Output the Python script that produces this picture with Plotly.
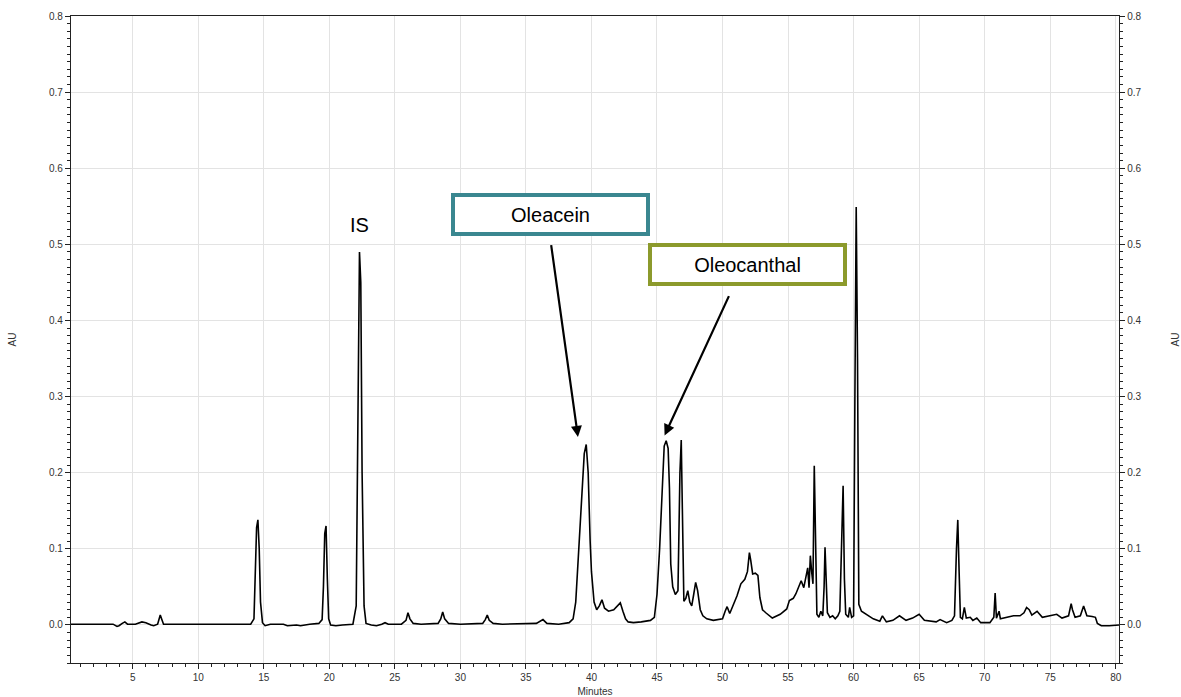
import plotly.graph_objects as go

# Chromatogram (retention time in minutes, absorbance in AU)
time_min = [
    0.29, 3.5, 3.8, 3.95, 4.2, 4.4, 4.6, 5.2, 5.7, 6.0,
    6.4, 6.6, 6.9, 7.0, 7.1, 7.2, 7.35, 8.0, 10.0, 12.0,
    14.0, 14.25, 14.35, 14.45, 14.55, 14.65, 14.75, 14.9, 15.1, 15.5,
    16.5, 16.8, 17.5, 17.8, 18.5, 19.2, 19.45, 19.55, 19.65, 19.75,
    19.85, 19.95, 20.1, 20.5, 21.0, 21.8, 22.05, 22.2, 22.3, 22.4,
    22.5, 22.65, 22.8, 23.2, 23.6, 24.0, 24.25, 24.5, 25.5, 25.85,
    26.0, 26.15, 26.4, 27.0, 28.3, 28.5, 28.65, 28.8, 29.1, 30.0,
    31.7, 31.9, 32.05, 32.2, 32.5, 33.2, 35.8, 36.3, 36.6, 37.5,
    38.3, 38.6, 38.8, 39.0, 39.1, 39.3, 39.45, 39.6, 39.75, 39.9,
    40.0, 40.2, 40.4, 40.6, 40.8, 41.0, 41.3, 41.7, 42.0, 42.2,
    42.4, 42.6, 42.8, 43.2, 43.8, 44.5, 44.8, 45.0, 45.2, 45.4,
    45.55, 45.7, 45.85, 45.95, 46.05, 46.2, 46.4, 46.6, 46.75, 46.85,
    46.95, 47.05, 47.2, 47.35, 47.5, 47.65, 47.8, 47.95, 48.1, 48.3,
    48.5, 48.8, 49.3, 50.0, 50.2, 50.35, 50.55, 50.8, 51.1, 51.4,
    51.7, 51.9, 52.05, 52.15, 52.3, 52.5, 52.7, 52.85, 53.05, 53.3,
    53.8, 54.4, 54.9, 55.1, 55.4, 55.6, 55.8, 56.0, 56.2, 56.35,
    56.5, 56.6, 56.7, 56.8, 56.9, 57.0, 57.1, 57.2, 57.35, 57.5,
    57.65, 57.75, 57.82, 57.9, 58.0, 58.2, 58.4, 58.6, 58.8, 58.95,
    59.1, 59.2, 59.3, 59.4, 59.6, 59.7, 59.85, 60.0, 60.1, 60.2,
    60.3, 60.4, 60.6, 61.0, 61.5, 62.0, 62.2, 62.5, 63.0, 63.5,
    64.0, 64.5, 65.0, 65.4, 65.8, 66.3, 66.6, 67.1, 67.5, 67.7,
    67.85, 67.95, 68.05, 68.15, 68.3, 68.45, 68.6, 68.9, 69.1, 69.4,
    69.7, 70.4, 70.7, 70.8, 70.9, 71.1, 71.2, 71.7, 72.2, 72.7,
    73.0, 73.2, 73.4, 73.6, 73.8, 74.0, 74.4, 75.0, 75.5, 75.9,
    76.4, 76.6, 76.7, 76.9, 77.3, 77.55, 77.8, 78.2, 78.45, 78.6,
    78.9, 79.5, 80.25,
]
absorbance_au = [
    0.001, 0.001, -0.002, -0.001, 0.002, 0.004, 0.001, 0.001, 0.004, 0.003,
    0.0, -0.001, 0.001, 0.008, 0.013, 0.008, 0.001, 0.001, 0.001, 0.001,
    0.001, 0.008, 0.06, 0.128, 0.138, 0.1, 0.03, 0.003, -0.001, 0.001,
    0.001, -0.001, 0.0, -0.001, 0.001, 0.002, 0.007, 0.05, 0.12, 0.13,
    0.06, 0.008, 0.0, -0.001, 0.0, 0.001, 0.025, 0.3, 0.49, 0.45,
    0.2, 0.025, 0.002, 0.0, -0.001, 0.001, 0.003, 0.001, 0.001, 0.006,
    0.016, 0.008, 0.002, 0.001, 0.002, 0.008, 0.017, 0.008, 0.002, 0.001,
    0.002, 0.007, 0.013, 0.006, 0.002, 0.001, 0.002, 0.007, 0.002, 0.001,
    0.003, 0.008, 0.03, 0.09, 0.12, 0.19, 0.225, 0.237, 0.2, 0.11,
    0.07, 0.03, 0.02, 0.025, 0.033, 0.022, 0.018, 0.02, 0.025, 0.029,
    0.018, 0.008, 0.004, 0.003, 0.004, 0.006, 0.01, 0.04, 0.1, 0.19,
    0.235, 0.242, 0.232, 0.18, 0.08, 0.05, 0.04, 0.045, 0.2, 0.243,
    0.15, 0.031, 0.035, 0.045, 0.03, 0.025, 0.04, 0.056, 0.045, 0.02,
    0.012, 0.008, 0.006, 0.008, 0.018, 0.024, 0.015, 0.025, 0.038, 0.054,
    0.06, 0.07, 0.095, 0.085, 0.067, 0.068, 0.065, 0.036, 0.02, 0.016,
    0.009, 0.014, 0.021, 0.032, 0.035, 0.041, 0.05, 0.058, 0.049, 0.06,
    0.075, 0.049, 0.091, 0.07, 0.054, 0.209, 0.12, 0.014, 0.01, 0.018,
    0.012, 0.05, 0.102, 0.05, 0.016, 0.01, 0.012, 0.008, 0.012, 0.018,
    0.12, 0.183, 0.06, 0.014, 0.01, 0.023, 0.01, 0.012, 0.3, 0.549,
    0.35, 0.027, 0.018, 0.014, 0.008, 0.005, 0.012, 0.004, 0.006, 0.012,
    0.006, 0.009, 0.014, 0.006, 0.005, 0.004, 0.007, 0.003, 0.006, 0.012,
    0.1, 0.138, 0.071, 0.01, 0.008, 0.023, 0.009, 0.01, 0.006, 0.009,
    0.003, 0.003, 0.01, 0.042, 0.009, 0.018, 0.008, 0.01, 0.012, 0.012,
    0.016, 0.023, 0.02, 0.013, 0.016, 0.018, 0.01, 0.012, 0.014, 0.009,
    0.012, 0.028, 0.02, 0.01, 0.012, 0.025, 0.012, 0.011, 0.01, 0.002,
    -0.001, -0.001, 0.0,
]
assert len(time_min) == len(absorbance_au)

x_range = [0.29, 80.25]
y_range = [-0.05, 0.8]

# Peak labels: (text, x, y)
is_label = ("IS", 22.27, 0.525)
boxes = [
    ("Oleacein", 36.85, 0.539, "#3a8790"),
    ("Oleocanthal", 51.87, 0.473, "#8c9a2c"),
]
# Arrows: (head_x, head_y, tail_x, tail_y)
arrows = [
    (38.97, 0.247, 36.91, 0.501),
    (45.58, 0.249, 50.54, 0.434),
]

font_family = "Liberation Sans, Arial, sans-serif"
tick_font = dict(family=font_family, size=10, color="#333333")

fig = go.Figure()
fig.add_trace(go.Scatter(
    x=time_min, y=absorbance_au, mode="lines",
    line=dict(color="black", width=1.6), showlegend=False, hoverinfo="x+y",
))
# invisible copy so the right-hand axis is drawn
fig.add_trace(go.Scatter(
    x=time_min, y=absorbance_au, mode="lines", yaxis="y2",
    line=dict(color="rgba(0,0,0,0)", width=0), showlegend=False, hoverinfo="skip",
))

annotations = [dict(
    text=is_label[0], x=is_label[1], y=is_label[2], xref="x", yref="y",
    showarrow=False, font=dict(family=font_family, size=20, color="black"),
)]
for text, bx, by, col in boxes:
    annotations.append(dict(
        text=text, x=bx, y=by, xref="x", yref="y", showarrow=False,
        font=dict(family=font_family, size=20, color="black"),
        bgcolor="white", bordercolor=col, borderwidth=4, borderpad=0,
        width=191, height=35, align="center", valign="middle",
    ))
for hx, hy, tx, ty in arrows:
    annotations.append(dict(
        text="", x=hx, y=hy, ax=tx, ay=ty, xref="x", yref="y",
        axref="x", ayref="y", showarrow=True, arrowhead=2,
        arrowsize=1, arrowwidth=2.2, arrowcolor="black",
    ))

fig.update_layout(
    width=1181, height=697,
    margin=dict(l=71, r=62, t=16, b=34, autoexpand=False),
    paper_bgcolor="white", plot_bgcolor="white",
    font=dict(family=font_family, size=10, color="#333333"),
    annotations=annotations,
    xaxis=dict(
        range=x_range, dtick=5, tick0=0, ticks="outside", ticklen=5,
        tickcolor="#222", showline=True, linecolor="#222", linewidth=1.3,
        mirror=True, showgrid=True, gridcolor="#e3e3e3", gridwidth=1,
        zeroline=False, tickfont=tick_font, automargin=False,
        minor=dict(dtick=1, tick0=0, ticks="outside", ticklen=3, tickcolor="#222", showgrid=False),
        title=dict(text="Minutes", font=dict(family=font_family, size=10, color="#333"), standoff=6),
    ),
    yaxis=dict(
        range=y_range, dtick=0.1, tick0=0, tickformat=".1f", ticks="outside", ticklen=5,
        tickcolor="#222", showline=True, linecolor="#222", linewidth=1.3,
        showgrid=True, gridcolor="#e3e3e3", gridwidth=1, zeroline=False,
        tickfont=tick_font, automargin=False,
        minor=dict(dtick=0.01, tick0=0, ticks="outside", ticklen=3, tickcolor="#222", showgrid=False),
        title=dict(text="AU", font=dict(family=font_family, size=10, color="#333"), standoff=30),
    ),
    yaxis2=dict(
        range=y_range, dtick=0.1, tick0=0, tickformat=".1f", overlaying="y", side="right",
        ticks="outside", ticklen=5, tickcolor="#222", showline=True, linecolor="#222",
        linewidth=1.3, showgrid=False, zeroline=False, tickfont=tick_font, automargin=False,
        minor=dict(dtick=0.01, tick0=0, ticks="outside", ticklen=3, tickcolor="#222"),
        title=dict(text="AU", font=dict(family=font_family, size=10, color="#333"), standoff=40),
    ),
)

fig.write_html("out.html")
